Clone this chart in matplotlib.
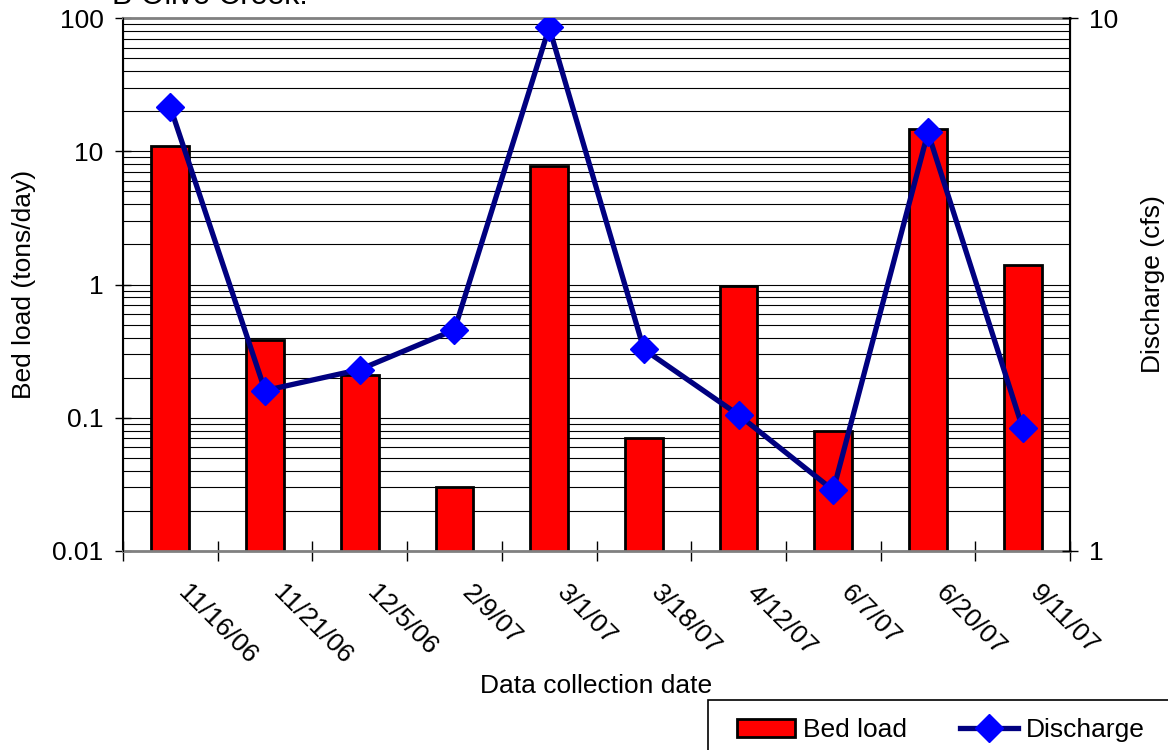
import matplotlib
matplotlib.use("Agg")
import matplotlib.pyplot as plt
from matplotlib.ticker import LogLocator, FuncFormatter, NullLocator, FixedLocator
from matplotlib.transforms import ScaledTranslation
from matplotlib.patches import Patch, Rectangle
from matplotlib.lines import Line2D

plt.rcParams['font.family'] = ['Liberation Sans', 'DejaVu Sans']

dates = ['11/16/06', '11/21/06', '12/5/06', '2/9/07', '3/1/07',
         '3/18/07', '4/12/07', '6/7/07', '6/20/07', '9/11/07']
bed_load = [11, 0.38, 0.21, 0.030, 7.7, 0.07, 0.97, 0.08, 14.8, 1.41]
discharge = [6.8, 2.0, 2.19, 2.6, 9.6, 2.39, 1.80, 1.30, 6.1, 1.70]

fs = 19
fig = plt.figure(figsize=(11.68, 7.5), dpi=100)
ax = fig.add_axes([123/1168, 1-551/750, 947/1168, 533/750])
x = list(range(len(dates)))

ax.bar(x, bed_load, width=0.4, color='#ff0000', edgecolor='black', linewidth=2, zorder=2)
ax.set_yscale('log')
ax.set_ylim(0.01, 100)
ax.set_xlim(-0.5, len(dates) - 0.5)
ax.yaxis.set_major_locator(LogLocator(base=10, numticks=10))
ax.yaxis.set_minor_locator(LogLocator(base=10, subs=range(2, 10), numticks=20))
ax.yaxis.set_major_formatter(FuncFormatter(lambda v, p: '%g' % v))
ax.grid(True, which='both', axis='y', color='black', linewidth=0.8, zorder=0)
ax.set_axisbelow(True)
ax.tick_params(axis='y', which='major', direction='inout', length=12, width=1, labelsize=fs, pad=8)
ax.tick_params(axis='y', which='minor', length=0)

ax.xaxis.set_major_locator(FixedLocator(x))
ax.xaxis.set_minor_locator(FixedLocator([i - 0.5 for i in range(len(dates) + 1)]))
ax.set_xticklabels(dates)
ax.tick_params(axis='x', which='major', length=0, labelsize=fs, pad=21)
ax.tick_params(axis='x', which='minor', direction='inout', length=14, width=1)
for lab in ax.get_xticklabels():
    lab.set_rotation(-45)
    lab.set_ha('left')
    lab.set_va('top')
    lab.set_rotation_mode('anchor')
    lab.set_transform(lab.get_transform() + ScaledTranslation(0.2, 0, fig.dpi_scale_trans))

ax.spines['top'].set_color('#808080')
ax.spines['bottom'].set_color('#808080')
ax.spines['top'].set_linewidth(2)
ax.spines['bottom'].set_linewidth(2)
ax.spines['left'].set_linewidth(1.5)
ax.set_ylabel('Bed load (tons/day)', fontsize=fs, labelpad=12)
ax.set_xlabel('Data collection date', fontsize=fs, labelpad=4)

ax2 = ax.twinx()
ax2.plot(x, discharge, color='#000080', linewidth=3.8, marker='D', markersize=14,
         markerfacecolor='#0000ff', markeredgecolor='#0000ff', zorder=3)
ax2.set_yscale('log')
ax2.set_ylim(1, 10)
ax2.yaxis.set_major_locator(LogLocator(base=10, numticks=5))
ax2.yaxis.set_minor_locator(NullLocator())
ax2.yaxis.set_major_formatter(FuncFormatter(lambda v, p: '%g' % v))
ax2.tick_params(axis='y', direction='inout', length=12, width=1, labelsize=fs, pad=8)
ax2.spines['right'].set_linewidth(1.5)
ax2.spines['top'].set_visible(False)
ax2.spines['bottom'].set_visible(False)
ax2.set_ylabel('Discharge (cfs)', fontsize=fs, labelpad=16)

fig.text(112/1168, 1 - 4/750, 'B Olive Creek.', fontsize=22, va='baseline', ha='left')

# legend frame (partly outside the figure)
fig.patches.append(Rectangle((708/1168, -0.1), 470/1168, 1.1 - 700/750, transform=fig.transFigure,
                             facecolor='white', edgecolor='black', linewidth=1.2))
handles = [Patch(facecolor='#ff0000', edgecolor='black', linewidth=2),
           Line2D([], [], color='#000080', linewidth=3.8, marker='D', markersize=14,
                  markerfacecolor='#0000ff', markeredgecolor='#0000ff')]
leg = fig.legend(handles, ['Bed load', 'Discharge'], loc='upper left',
                 bbox_to_anchor=(737/1168, 1 - 718/750), ncol=2, fontsize=fs,
                 frameon=False, borderpad=0, handlelength=2.2, handleheight=0.65,
                 handletextpad=0.3, columnspacing=2.0, borderaxespad=0)

fig.savefig('out.png', dpi=100)
